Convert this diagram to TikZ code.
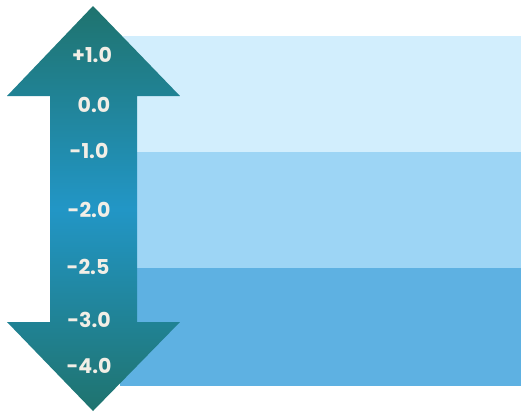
\documentclass[tikz,border=0pt]{standalone}
\usepackage{fontspec}
\setmainfont{Poppins}
\definecolor{bandA}{HTML}{D2EEFD}
\definecolor{bandB}{HTML}{9DD5F5}
\definecolor{bandC}{HTML}{5EB1E2}
\definecolor{arrEnd}{HTML}{1F736E}
\definecolor{arrMid}{HTML}{2296C6}
\definecolor{lbl}{HTML}{F2EEE6}
\tikzset{
  band/.style={draw=none},
  val/.style={text=lbl, font=\fontsize{20.5}{24}\selectfont\bfseries, inner sep=0pt, anchor=center}
}
\begin{document}
\begin{tikzpicture}[x=1pt,y=-1pt]
\useasboundingbox (0,0) rectangle (526,413);
% bands
\fill[bandA] (120,36) rectangle (521,152);
\fill[bandB] (120,152) rectangle (521,268);
\fill[bandC] (120,268) rectangle (521,386);
% double arrow
\shade[top color=arrEnd, bottom color=arrEnd, middle color=arrMid]
  (93,6) -- (180,96) -- (137,96) -- (137,322) -- (180,322) -- (93,411)
  -- (7,322) -- (50,322) -- (50,96) -- (7,96) -- cycle;
% labels
\node[val] (p10) at (92,55) {+1.0};
\node[val] (z00) at (94,105) {0.0};
\node[val] (m10) at (89,151) {-1.0};
\node[val] (m20) at (89,210) {-2.0};
\node[val] (m25) at (88,267) {-2.5};
\node[val] (m30) at (89,320) {-3.0};
\node[val] (m40) at (89,366) {-4.0};
\end{tikzpicture}
\end{document}
